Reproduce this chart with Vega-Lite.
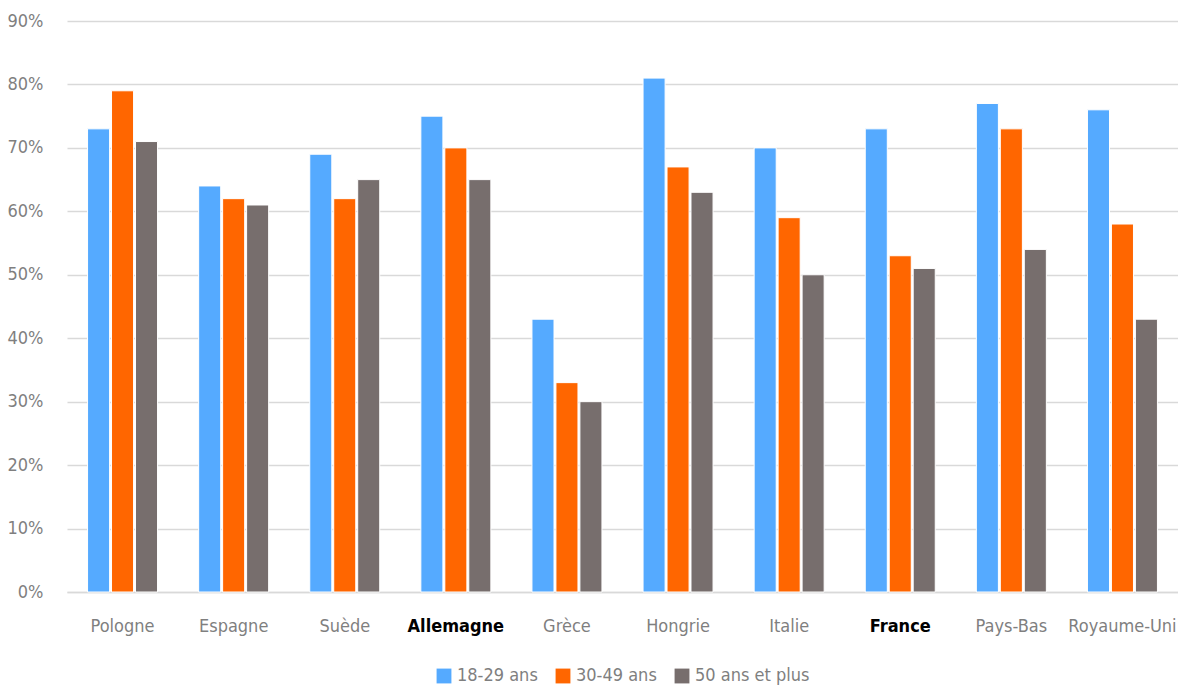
{
  "$schema": "https://vega.github.io/schema/vega-lite/v6.json",
  "width": 1178,
  "height": 685,
  "autosize": {"type": "fit", "contains": "padding"},
  "padding": {"left": 7, "top": 12, "right": 0, "bottom": 0},
  "background": "white",
  "config": {
    "font": "DejaVu Sans Condensed",
    "view": {"stroke": null},
    "legend": {"layout": {"bottom": {"anchor": "middle"}}}
  },
  "data": {
    "values": [
      {"pays": "Pologne", "age": "18-29 ans", "v": 0.73},
      {"pays": "Pologne", "age": "30-49 ans", "v": 0.79},
      {"pays": "Pologne", "age": "50 ans et plus", "v": 0.71},
      {"pays": "Espagne", "age": "18-29 ans", "v": 0.64},
      {"pays": "Espagne", "age": "30-49 ans", "v": 0.62},
      {"pays": "Espagne", "age": "50 ans et plus", "v": 0.61},
      {"pays": "Suède", "age": "18-29 ans", "v": 0.69},
      {"pays": "Suède", "age": "30-49 ans", "v": 0.62},
      {"pays": "Suède", "age": "50 ans et plus", "v": 0.65},
      {"pays": "Allemagne", "age": "18-29 ans", "v": 0.75},
      {"pays": "Allemagne", "age": "30-49 ans", "v": 0.70},
      {"pays": "Allemagne", "age": "50 ans et plus", "v": 0.65},
      {"pays": "Grèce", "age": "18-29 ans", "v": 0.43},
      {"pays": "Grèce", "age": "30-49 ans", "v": 0.33},
      {"pays": "Grèce", "age": "50 ans et plus", "v": 0.30},
      {"pays": "Hongrie", "age": "18-29 ans", "v": 0.81},
      {"pays": "Hongrie", "age": "30-49 ans", "v": 0.67},
      {"pays": "Hongrie", "age": "50 ans et plus", "v": 0.63},
      {"pays": "Italie", "age": "18-29 ans", "v": 0.70},
      {"pays": "Italie", "age": "30-49 ans", "v": 0.59},
      {"pays": "Italie", "age": "50 ans et plus", "v": 0.50},
      {"pays": "France", "age": "18-29 ans", "v": 0.73},
      {"pays": "France", "age": "30-49 ans", "v": 0.53},
      {"pays": "France", "age": "50 ans et plus", "v": 0.51},
      {"pays": "Pays-Bas", "age": "18-29 ans", "v": 0.77},
      {"pays": "Pays-Bas", "age": "30-49 ans", "v": 0.73},
      {"pays": "Pays-Bas", "age": "50 ans et plus", "v": 0.54},
      {"pays": "Royaume-Uni", "age": "18-29 ans", "v": 0.76},
      {"pays": "Royaume-Uni", "age": "30-49 ans", "v": 0.58},
      {"pays": "Royaume-Uni", "age": "50 ans et plus", "v": 0.43}
    ]
  },
  "mark": {"type": "bar", "stroke": "white", "strokeWidth": 1},
  "encoding": {
    "x": {
      "field": "pays",
      "type": "nominal",
      "sort": null,
      "title": null,
      "scale": {"paddingInner": 0.37, "paddingOuter": 0.185},
      "axis": {
        "labelAngle": 0,
        "labelFontSize": 18,
        "labelColor": {"condition": {"test": "datum.value === 'Allemagne' || datum.value === 'France'", "value": "black"}, "value": "#7f7f7f"},
        "labelFontWeight": {"condition": {"test": "datum.value === 'Allemagne' || datum.value === 'France'", "value": "bold"}, "value": "normal"},
        "labelPadding": 25,
        "ticks": false,
        "domainColor": "#d9d9d9",
        "domainWidth": 1.5
      }
    },
    "xOffset": {
      "field": "age",
      "type": "nominal",
      "scale": {"paddingInner": 0.08}
    },
    "y": {
      "field": "v",
      "type": "quantitative",
      "title": null,
      "scale": {"domain": [0, 0.9]},
      "axis": {
        "values": [0, 0.1, 0.2, 0.3, 0.4, 0.5, 0.6, 0.7, 0.8, 0.9],
        "format": ".0%",
        "labelFontSize": 18,
        "labelColor": "#7f7f7f",
        "domain": false,
        "ticks": false,
        "labelPadding": 24,
        "gridColor": "#d9d9d9",
        "gridWidth": 1.5
      }
    },
    "color": {
      "field": "age",
      "type": "nominal",
      "title": null,
      "scale": {"domain": ["18-29 ans", "30-49 ans", "50 ans et plus"], "range": ["#55aaff", "#ff6600", "#776e6d"]},
      "legend": {
        "orient": "bottom",
        "direction": "horizontal",
        "symbolType": "square",
        "symbolSize": 220,
        "symbolStrokeWidth": 0,
        "labelFontSize": 18,
        "labelColor": "#7f7f7f",
        "columnPadding": 16,
        "offset": 32
      }
    }
  }
}
